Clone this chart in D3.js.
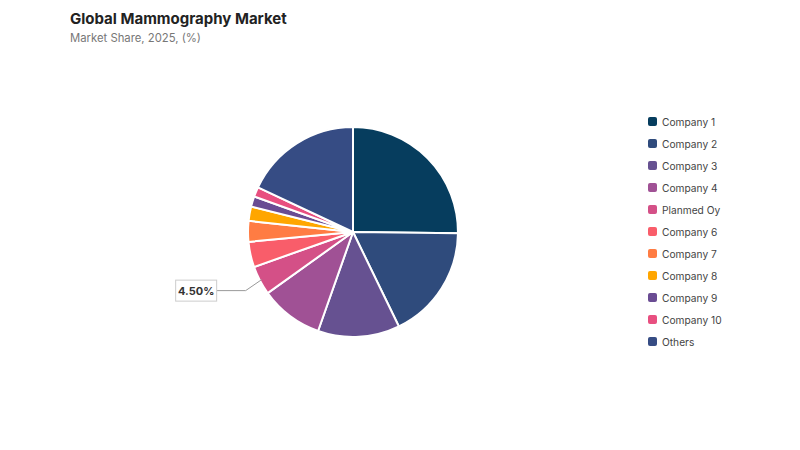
<!DOCTYPE html>
<html>
<head>
<meta charset="utf-8">
<script src="https://cdn.jsdelivr.net/npm/d3@7.9.0/dist/d3.min.js"></script>
<style>
  body { margin: 0; background: #fff; font-family: Inter, "Open Sans", sans-serif; }
  svg { display: block; }
</style>
</head>
<body>
<svg width="800" height="450"></svg>
<script>
const companies = ["Company 1", "Company 2", "Company 3", "Company 4", "Planmed Oy",
  "Company 6", "Company 7", "Company 8", "Company 9", "Company 10", "Others"];
const shares = [25.2, 17.6, 12.6, 9.7, 4.5, 3.9, 3.2, 2.2, 1.6, 1.5, 18.0];
const colors = ["#063d5e", "#2f4b7c", "#665191", "#a05195", "#d45087",
  "#f95d6a", "#ff7c43", "#ffa600", "#6a4c93", "#e84f80", "#364c84"];
const labelled = "Planmed Oy";

const svg = d3.select("svg");

svg.append("text").attr("x", 70).attr("y", 24)
  .attr("font-size", 15).attr("font-weight", 700).attr("fill", "#222")
  .text("Global Mammography Market");
svg.append("text").attr("x", 70).attr("y", 42)
  .attr("font-size", 11.3).attr("fill", "#777")
  .text("Market Share, 2025, (%)");

const data = companies.map((c, i) => ({ label: c, value: shares[i], color: colors[i] }));

const cx = 353, cy = 232, r = 105;
const pie = d3.pie().value(d => d.value).sort(null);
const arc = d3.arc().innerRadius(0).outerRadius(r);
const arcs = pie(data);

const g = svg.append("g").attr("transform", `translate(${cx},${cy})`);
g.selectAll("path").data(arcs).join("path")
  .attr("d", arc)
  .attr("fill", d => d.data.color)
  .attr("stroke", "#fff")
  .attr("stroke-width", 2)
  .attr("stroke-linejoin", "round");

// callout label
const a = arcs.find(d => d.data.label === labelled);
const mid = (a.startAngle + a.endAngle) / 2;
const px = Math.sin(mid) * (r - 2), py = -Math.cos(mid) * (r - 2);
const elbowX = px - 16, elbowY = py + 11;
g.append("polyline")
  .attr("points", `${px},${py} ${elbowX},${elbowY} ${elbowX - 29},${elbowY}`)
  .attr("fill", "none").attr("stroke", "#999").attr("stroke-width", 1);
const bx = elbowX - 29 - 41, by = elbowY - 10.5;
g.append("rect").attr("x", bx).attr("y", by).attr("width", 41).attr("height", 21)
  .attr("fill", "#fff").attr("stroke", "#ccc").attr("stroke-width", 1);
g.append("text").attr("x", bx + 20.5).attr("y", by + 14.5)
  .attr("text-anchor", "middle").attr("font-size", 11).attr("font-weight", 700)
  .attr("fill", "#333").text(d3.format(".2f")(a.data.value) + "%");

// legend
const legend = svg.append("g").attr("transform", "translate(648,117)");
const item = legend.selectAll("g").data(data).join("g")
  .attr("transform", (d, i) => `translate(0,${i * 22})`);
item.append("rect").attr("width", 9).attr("height", 9).attr("rx", 2)
  .attr("fill", d => d.color);
item.append("text").attr("x", 14).attr("y", 8.5)
  .attr("font-size", 10.2).attr("fill", "#444").text(d => d.label);
</script>
</body>
</html>
